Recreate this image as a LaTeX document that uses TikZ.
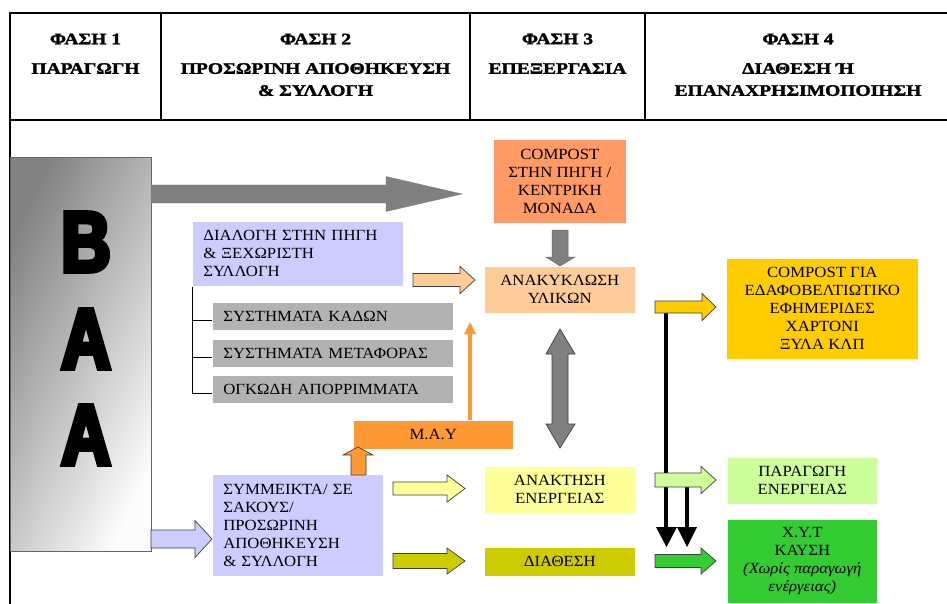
\documentclass[tikz,border=0pt]{standalone}
\usepackage{fontspec}
\setmainfont{Liberation Serif}[FakeStretch=1.08]
\newfontfamily\hdrfont{Liberation Serif Bold}[FakeStretch=1.22, FakeBold=2]
\newfontfamily\bigfont{Liberation Sans}[FakeStretch=0.8, FakeBold=6]
\usetikzlibrary{arrows.meta}
\definecolor{cLav}{HTML}{CCCCFF}
\definecolor{cGrayBox}{HTML}{B2B2B2}
\definecolor{cArrGray}{HTML}{808080}
\definecolor{cCompost}{HTML}{FF9966}
\definecolor{cPeach}{HTML}{FFCC99}
\definecolor{cLtYel}{HTML}{FFFF99}
\definecolor{cOlive}{HTML}{CCCC00}
\definecolor{cMay}{HTML}{FF9933}
\definecolor{cGold}{HTML}{FFCC00}
\definecolor{cLtGreen}{HTML}{CCFF99}
\definecolor{cGreen}{HTML}{33CC33}
\definecolor{cOut}{HTML}{404040}
\definecolor{cBaaTop}{HTML}{828282}
\definecolor{cBaaBot}{HTML}{FCFCFC}
\newcommand\bodyfs{\fontsize{15.5}{18}\selectfont}
\newcommand\hdrfs{\hdrfont\fontsize{16}{22}\selectfont}
\newcommand\bigfs{\bigfont\bfseries\fontsize{85}{85}\selectfont}
\newcommand\blockR[7]{%
  \filldraw[#7] (#1,#3-#4) -- (#6,#3-#4) -- (#6,#3-#5) -- (#2,#3) -- (#6,#3+#5) -- (#6,#3+#4) -- (#1,#3+#4) -- cycle;}
\begin{document}
\begin{tikzpicture}[x=1pt,y=-1pt,
  hline/.style={draw=black, line width=1.1pt},
  hdr/.style={font=\hdrfs, align=center, inner sep=0pt},
  box/.style={rectangle, inner sep=0pt, anchor=north west, font=\bodyfs, draw=white, line width=0.6pt},
  lbox/.style={box, align=left, inner xsep=11pt},
  cbox/.style={box, align=center},
  barrow/.style={draw=cOut, line width=0.7pt, line join=miter},
  bigletter/.style={inner sep=0pt}
]
\useasboundingbox (0,0) rectangle (947,604);
\fill[white] (0,0) rectangle (947,604);

% header table
\draw[hline] (10,604) -- (10,13) -- (947,13);
\draw[hline] (10,120) -- (947,120);
\draw[hline] (161,13) -- (161,120);
\draw[hline] (470,13) -- (470,120);
\draw[hline] (645,13) -- (645,120);

\node[hdr] (h1a) at (85.5,39) {ΦΑΣΗ 1};
\node[hdr, anchor=north] (h1b) at (85.5,63) {ΠΑΡΑΓΩΓΗ};
\node[hdr] (h2a) at (315.5,39) {ΦΑΣΗ 2};
\node[hdr, anchor=north] (h2b) at (315.5,63) {ΠΡΟΣΩΡΙΝΗ ΑΠΟΘΗΚΕΥΣΗ\\\& ΣΥΛΛΟΓΗ};
\node[hdr] (h3a) at (557.5,39) {ΦΑΣΗ 3};
\node[hdr, anchor=north] (h3b) at (557.5,63) {ΕΠΕΞΕΡΓΑΣΙΑ};
\node[hdr] (h4a) at (798,39) {ΦΑΣΗ 4};
\node[hdr, anchor=north] (h4b) at (798,63) {ΔΙΑΘΕΣΗ Ή\\ΕΠΑΝΑΧΡΗΣΙΜΟΠΟΙΗΣΗ};

% BAA box
\node[anchor=north west, minimum width=141pt, minimum height=394pt, inner sep=0pt,
      draw=cOut!80, line width=0.8pt, top color=cBaaTop, bottom color=cBaaBot, shading angle=65] (baa) at (10,157) {};
\node[bigletter] (l1) at (86,242) {\bigfs Β};
\node[bigletter] (l2) at (86,339) {\bigfs Α};
\node[bigletter] (l3) at (86,435) {\bigfs Α};

% big gray arrow
\blockR{151}{462}{194}{9}{17.5}{386}{fill=cArrGray, draw=cArrGray}

% phase 2 boxes
\node[lbox, fill=cLav, text width=189pt, minimum height=65pt] (dial) at (192,221) {ΔΙΑΛΟΓΗ ΣΤΗΝ ΠΗΓΗ\\\& ΞΕΧΩΡΙΣΤΗ\\ΣΥΛΛΟΓΗ};
\node[lbox, fill=cGrayBox, text width=219pt, minimum height=28pt] (g1) at (212,302) {ΣΥΣΤΗΜΑΤΑ ΚΑΔΩΝ};
\node[lbox, fill=cGrayBox, text width=219pt, minimum height=28pt] (g2) at (212,339) {ΣΥΣΤΗΜΑΤΑ ΜΕΤΑΦΟΡΑΣ};
\node[lbox, fill=cGrayBox, text width=219pt, minimum height=28pt] (g3) at (212,375) {ΟΓΚΩΔΗ ΑΠΟΡΡΙΜΜΑΤΑ};
\node[lbox, fill=cLav, text width=149pt, minimum height=102pt] (symm) at (212,474) {ΣΥΜΜΕΙΚΤΑ/ ΣΕ\\ΣΑΚΟΥΣ/\\ΠΡΟΣΩΡΙΝΗ\\ΑΠΟΘΗΚΕΥΣΗ\\\& ΣΥΛΛΟΓΗ};
\node[cbox, fill=cMay, minimum width=160pt, minimum height=29pt] (may) at (353,420) {Μ.Α.Υ};

% tree lines
\coordinate (t1) at ([yshift=-4pt]g1.west);
\coordinate (t2) at ([yshift=-4pt]g2.west);
\coordinate (t3) at ([yshift=-4pt]g3.west);
\draw[black, line width=0.8pt] (dial.south west) |- (t3);
\draw[black, line width=0.8pt] (dial.south west |- t1) -- (t1);
\draw[black, line width=0.8pt] (dial.south west |- t2) -- (t2);

% phase 3 boxes
\node[cbox, fill=cCompost, minimum width=133pt, minimum height=84pt] (comp) at (493,139) {COMPOST\\ΣΤΗΝ ΠΗΓΗ /\\ΚΕΝΤΡΙΚΗ\\ΜΟΝΑΔΑ};
\node[cbox, fill=cPeach, minimum width=151pt, minimum height=47pt] (anak) at (484,266) {ΑΝΑΚΥΚΛΩΣΗ\\ΥΛΙΚΩΝ};
\node[cbox, fill=cLtYel, minimum width=151pt, minimum height=47pt] (anakt) at (484,466) {ΑΝΑΚΤΗΣΗ\\ΕΝΕΡΓΕΙΑΣ};
\node[cbox, fill=cOlive, minimum width=151pt, minimum height=29pt] (diath) at (484,547) {ΔΙΑΘΕΣΗ};

% phase 4 boxes
\node[cbox, fill=cGold, minimum width=192pt, minimum height=101pt] (comp2) at (726,258) {COMPOST ΓΙΑ\\ΕΔΑΦΟΒΕΛΤΙΩΤΙΚΟ\\ΕΦΗΜΕΡΙΔΕΣ\\ΧΑΡΤΟΝΙ\\ΞΥΛΑ ΚΛΠ};
\node[cbox, fill=cLtGreen, minimum width=150pt, minimum height=47pt] (parag) at (727,457) {ΠΑΡΑΓΩΓΗ\\ΕΝΕΡΓΕΙΑΣ};
\node[cbox, fill=cGreen, minimum width=150pt, minimum height=84pt] (xyt) at (727,519) {Χ.Υ.Τ\\ΚΑΥΣΗ\\{\itshape (Χωρίς παραγωγή}\\{\itshape ενέργειας)}};

% thin orange arrow from M.A.Y upward
\coordinate (maytip) at (470,322);
\draw[cMay, line width=3.5pt, -{Triangle[length=12pt,width=11pt]}] (may.north -| maytip) -- (maytip);

% small orange up arrow
\filldraw[barrow, fill=cMay] (351,475) -- (351,455) -- (343,455) -- (358,447) -- (373,455) -- (366,455) -- (366,475) -- cycle;

% gray down arrow compost -> anakyklosi
\filldraw[fill=cArrGray, draw=cArrGray!80!black, line width=0.5pt] (552,230) -- (568,230) -- (568,257) -- (575,257) -- (560,266) -- (546,257) -- (552,257) -- cycle;

% gray double arrow
\filldraw[barrow, fill=cArrGray] (560,329) -- (575,354) -- (568,354) -- (568,424) -- (575,424) -- (560,448) -- (546,424) -- (552,424) -- (552,354) -- (546,354) -- cycle;

% black lines and heads
\coordinate (bl1top) at (666,313);
\coordinate (bl2top) at (687,487);
\draw[black, line width=4pt] (bl1top) -- (666,529);
\draw[black, line width=4pt] (bl2top) -- (687,529);
\fill[black] (656,527) -- (677,527) -- (666.5,547) -- cycle;
\fill[black] (677,527) -- (697,527) -- (687,547) -- cycle;

% block arrows
\blockR{413}{475}{280}{6.5}{13.5}{460}{barrow, fill=cPeach}
\blockR{151}{212}{539}{9}{18.5}{195}{barrow, fill=cLav}
\blockR{393}{465}{488.5}{6.5}{13.5}{447}{barrow, fill=cLtYel}
\blockR{393}{465}{561}{7.5}{13}{447}{barrow, fill=cOlive}
\blockR{655}{716}{307}{6}{13.5}{702}{barrow, fill=cGold}
\blockR{655}{716}{480}{7}{13.5}{701}{barrow, fill=cLtGreen}
\blockR{655}{716}{561}{6.5}{13}{701}{barrow, fill=cGreen}
\end{tikzpicture}
\end{document}
